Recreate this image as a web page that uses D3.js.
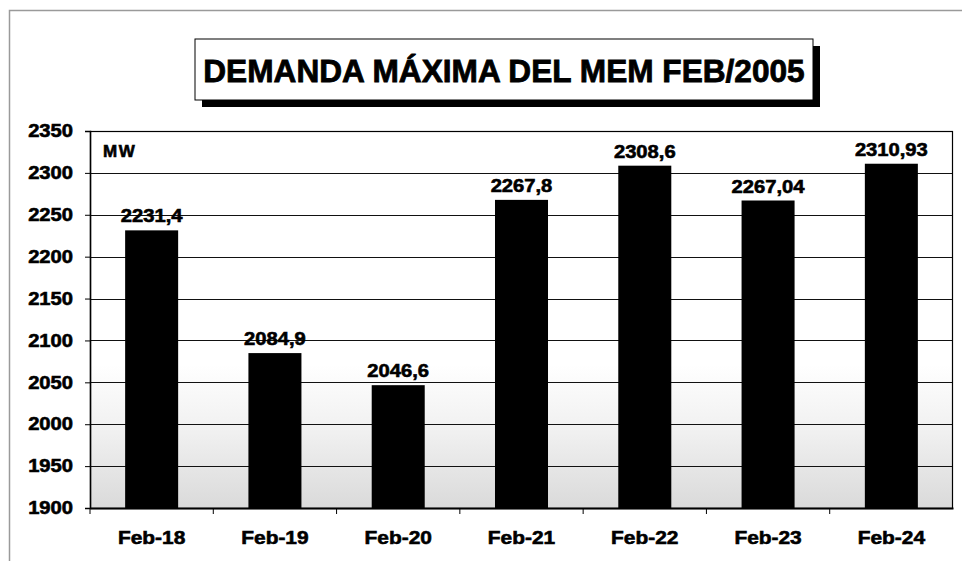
<!DOCTYPE html>
<html>
<head>
<meta charset="utf-8">
<script src="https://cdn.jsdelivr.net/npm/d3@7"></script>
<style>
  body { margin: 0; background: #fff; }
  text { font-family: "Liberation Sans", Arial, sans-serif; font-weight: bold; fill: #000; stroke: #000; stroke-width: 0.6px; }
</style>
</head>
<body>
<div class="container"></div>
<script>
var categories = ['Feb-18', 'Feb-19', 'Feb-20', 'Feb-21', 'Feb-22', 'Feb-23', 'Feb-24'];
var demand = [2231.4, 2084.9, 2046.6, 2267.8, 2308.6, 2267.04, 2310.93];
var valueLabels = ['2231,4', '2084,9', '2046,6', '2267,8', '2308,6', '2267,04', '2310,93'];
var yTicks = [1900, 1950, 2000, 2050, 2100, 2150, 2200, 2250, 2300, 2350];
var title = 'DEMANDA MÁXIMA DEL MEM FEB/2005';
var unit = 'MW';

var width = 962, height = 561;
var margin = {top: 131, right: 9, bottom: 53, left: 90};

var svg = d3.select('.container')
  .append('svg')
    .attr('width', width)
    .attr('height', height);

// stretch text a bit wider, the scanned original looks wide
function stretch(sel, k) {
  sel.each(function() {
    var w = this.getComputedTextLength();
    d3.select(this).attr('textLength', w * k).attr('lengthAdjust', 'spacingAndGlyphs');
  });
}

// outer frame (only top and left edges show)
svg.append('rect')
  .attr('x', 9.5).attr('y', 10.5)
  .attr('width', 1000).attr('height', 600)
  .attr('fill', 'none')
  .attr('stroke', '#9a9a9a')
  .attr('stroke-width', 1.5);

// title box with shadow
var tb = {x: 195, y: 39, w: 618, h: 61};
svg.append('rect')
  .attr('x', tb.x + 7).attr('y', tb.y + 7)
  .attr('width', tb.w).attr('height', tb.h)
  .attr('fill', '#000');
svg.append('rect')
  .attr('x', tb.x).attr('y', tb.y)
  .attr('width', tb.w).attr('height', tb.h)
  .attr('fill', '#fff')
  .attr('stroke', '#000')
  .attr('stroke-width', 1);
svg.append('text')
  .attr('x', tb.x + tb.w / 2)
  .attr('y', 82)
  .attr('text-anchor', 'middle')
  .style('font-size', '31px')
  .style('stroke-width', '0.8px')
  .text(title)
  .call(stretch, 1.02);

var innerW = width - margin.left - margin.right;
var innerH = height - margin.top - margin.bottom;

var x = d3.scaleBand()
  .domain(categories)
  .range([margin.left, margin.left + innerW])
  .paddingInner(0.57)
  .paddingOuter(0.285);

var y = d3.scaleLinear()
  .domain([1900, 2350])
  .range([margin.top + innerH, margin.top]);

// plot background: white fading to grey at the bottom
var defs = svg.append('defs');
var grad = defs.append('linearGradient')
  .attr('id', 'bg')
  .attr('x1', 0).attr('y1', 0).attr('x2', 0).attr('y2', 1);
grad.append('stop').attr('offset', '0%').attr('stop-color', '#fff');
grad.append('stop').attr('offset', '62%').attr('stop-color', '#fff');
grad.append('stop').attr('offset', '80%').attr('stop-color', '#f0f0f0');
grad.append('stop').attr('offset', '100%').attr('stop-color', '#dadada');

svg.append('rect')
  .attr('x', margin.left).attr('y', margin.top)
  .attr('width', innerW).attr('height', innerH)
  .attr('fill', 'url(#bg)');

// gridlines
svg.append('g')
  .selectAll('line')
  .data(yTicks)
  .enter().append('line')
    .attr('x1', margin.left).attr('x2', margin.left + innerW)
    .attr('y1', function(d) { return Math.round(y(d)) + 0.5; })
    .attr('y2', function(d) { return Math.round(y(d)) + 0.5; })
    .attr('stroke', '#111')
    .attr('stroke-width', 1);

// bars
svg.append('g')
  .selectAll('rect')
  .data(demand)
  .enter().append('rect')
    .attr('x', function(d, i) { return x(categories[i]); })
    .attr('y', function(d) { return y(d); })
    .attr('width', x.bandwidth())
    .attr('height', function(d) { return y(1900) - y(d); })
    .attr('fill', '#000');

// value labels
svg.append('g')
  .selectAll('text')
  .data(demand)
  .enter().append('text')
    .attr('x', function(d, i) { return x(categories[i]) + x.bandwidth() / 2; })
    .attr('y', function(d) { return y(d) - 8; })
    .attr('text-anchor', 'middle')
    .style('font-size', '18px')
    .text(function(d, i) { return valueLabels[i]; })
    .call(stretch, 1.12);

// plot frame
svg.append('rect')
  .attr('x', margin.left + 0.5).attr('y', margin.top + 0.5)
  .attr('width', innerW - 1).attr('height', innerH)
  .attr('fill', 'none')
  .attr('stroke', '#000')
  .attr('stroke-width', 1.2);

// y axis
var yAxis = svg.append('g')
  .attr('transform', 'translate(' + margin.left + ',0)')
  .call(d3.axisLeft(y).tickValues(yTicks).tickSize(5).tickPadding(12).tickFormat(d3.format('d')));
yAxis.select('.domain').attr('stroke', '#000').attr('stroke-width', 1.5);
yAxis.selectAll('.tick line').attr('stroke', '#000');
yAxis.selectAll('.tick text')
  .style('font-size', '18px')
  .attr('font-family', null)
  .call(stretch, 1.12);

// x axis, ticks between the categories
var xAxis = svg.append('g')
  .attr('transform', 'translate(0,' + (margin.top + innerH) + ')')
  .call(d3.axisBottom(x).tickSize(0).tickPadding(23));
xAxis.select('.domain').attr('stroke', '#000').attr('stroke-width', 2);
xAxis.selectAll('.tick text')
  .style('font-size', '19px')
  .attr('font-family', null)
  .call(stretch, 1.1);
xAxis.selectAll('.sep')
  .data(categories)
  .enter().append('line')
    .attr('class', 'sep')
    .attr('x1', function(d) { return x(d) - x.step() * x.paddingInner() / 2; })
    .attr('x2', function(d) { return x(d) - x.step() * x.paddingInner() / 2; })
    .attr('y1', 0).attr('y2', 6)
    .attr('stroke', '#000');

// unit label
svg.append('text')
  .attr('x', 103)
  .attr('y', 157)
  .style('font-size', '17px')
  .style('letter-spacing', '1.5px')
  .text(unit);
</script>
</body>
</html>
